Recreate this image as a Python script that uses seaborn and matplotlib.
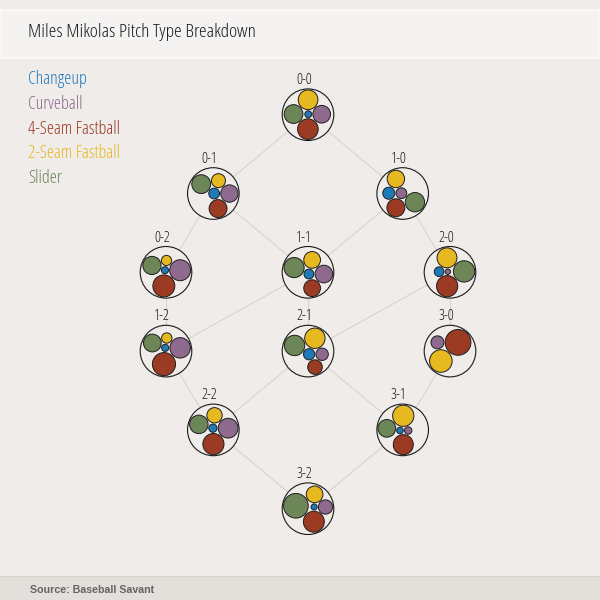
"""
Miles Mikolas – pitch type mix by count, packed circles per count node.
"""

import math
from itertools import combinations
import matplotlib
matplotlib.use("Agg")
import matplotlib.pyplot as plt
from matplotlib.patches import Circle, Rectangle
import pandas as pd
import seaborn as sns

BG        = "#efecea"
TITLE_BG  = "#f4f3f1"
FOOT_BG   = "#e3e0dc"
EDGE_COL  = "#d5d2cf"

# ---- data -------------------------------------------------------------
COUNTS  = ["0-0", "0-1", "1-0", "0-2", "1-1", "2-0",
           "1-2", "2-1", "3-0", "2-2", "3-1", "3-2"]
PITCHES = ["Changeup", "Curveball", "4-Seam Fastball", "2-Seam Fastball", "Slider"]
PITCH_COLORS = ["#1f7ab9", "#8e6b8e", "#9b3b23", "#e6b921", "#6c8657"]

# usage share (%) of each pitch in each count, same order as COUNTS
CHANGEUP  = [3.1,  9.0, 11.5,  3.6,  7.1,  6.5,  3.6,  9.6,  0.0,  4.6,  3.4,  2.4]
CURVEBALL = [20.5, 23.4, 9.2, 31.1, 22.6,  2.1, 29.3, 11.6, 12.6, 26.3,  4.4, 13.0]
FOURSEAM  = [27.9, 24.9, 25.5, 34.3, 20.4, 31.6, 37.5, 16.1, 49.6, 30.2, 31.7, 28.0]
TWOSEAM   = [25.4, 15.2, 24.0,  7.4, 20.4, 27.9,  7.5, 31.4, 37.9, 15.9, 35.7, 17.8]
SLIDER    = [23.1, 27.5, 29.8, 23.6, 29.5, 32.0, 22.2, 31.4,  0.0, 23.1, 24.8, 38.8]

# ---- layout (pixels on a 600x600 canvas) ------------------------------
X0, XSPAN = 24, 568
Y0, DY    = 114.7, 78.8
R_OUT     = 25.8
PAD       = 0.6


# ---- circle packing (front-chain, weighted-centroid variant) ----------
def _place(b, a, c):
    dx, dy = b[0] - a[0], b[1] - a[1]
    d2 = dx * dx + dy * dy
    if d2:
        a2 = (a[2] + c[2]) ** 2
        b2 = (b[2] + c[2]) ** 2
        if a2 > b2:
            x = (d2 + b2 - a2) / (2 * d2)
            y = math.sqrt(max(0, b2 / d2 - x * x))
            c[0] = b[0] - x * dx - y * dy
            c[1] = b[1] - x * dy + y * dx
        else:
            x = (d2 + a2 - b2) / (2 * d2)
            y = math.sqrt(max(0, a2 / d2 - x * x))
            c[0] = a[0] + x * dx - y * dy
            c[1] = a[1] + x * dy + y * dx
    else:
        c[0], c[1] = a[0] + c[2], a[1]


def _intersects(a, b):
    dr = a[2] + b[2] - 1e-6
    dx, dy = b[0] - a[0], b[1] - a[1]
    return dr > 0 and dr * dr > dx * dx + dy * dy


class _Node:
    def __init__(self, c):
        self.c, self.next, self.prev = c, None, None


def _encloses_weak(a, b):
    return math.hypot(b[0] - a[0], b[1] - a[1]) + b[2] <= a[2] + 1e-4


def _basis2(a, b):
    x21, y21, r21 = b[0] - a[0], b[1] - a[1], b[2] - a[2]
    l = math.hypot(x21, y21)
    return ((a[0] + b[0] + x21 / l * r21) / 2,
            (a[1] + b[1] + y21 / l * r21) / 2,
            (l + a[2] + b[2]) / 2)


def _basis3(a, b, c):
    x1, y1, r1 = a
    x2, y2, r2 = b
    x3, y3, r3 = c
    a2, a3, b2, b3 = x1 - x2, x1 - x3, y1 - y2, y1 - y3
    c2, c3 = r2 - r1, r3 - r1
    d1 = x1 * x1 + y1 * y1 - r1 * r1
    d2 = d1 - x2 * x2 - y2 * y2 + r2 * r2
    d3 = d1 - x3 * x3 - y3 * y3 + r3 * r3
    ab = a3 * b2 - a2 * b3
    xa = (b2 * d3 - b3 * d2) / (ab * 2) - x1
    xb = (b3 * c2 - b2 * c3) / ab
    ya = (a3 * d2 - a2 * d3) / (ab * 2) - y1
    yb = (a2 * c3 - a3 * c2) / ab
    A = xb * xb + yb * yb - 1
    B = 2 * (r1 + xa * xb + ya * yb)
    C = xa * xa + ya * ya - r1 * r1
    r = -((B + math.sqrt(B * B - 4 * A * C)) / (2 * A) if abs(A) > 1e-6 else C / B)
    return (x1 + xa + xb * r, y1 + ya + yb * r, r)


def _enclose(circles):
    cands = [tuple(c) for c in circles]
    for a, b in combinations(circles, 2):
        cands.append(_basis2(a, b))
    for a, b, c in combinations(circles, 3):
        try:
            cands.append(_basis3(a, b, c))
        except (ZeroDivisionError, ValueError):
            pass
    best = None
    for e in cands:
        if all(math.isfinite(v) for v in e) and all(_encloses_weak(e, c) for c in circles):
            if best is None or e[2] < best[2]:
                best = e
    return best


def pack_siblings(circles):
    n = len(circles)
    a = circles[0]
    a[0] = a[1] = 0
    if n == 1:
        return a[2]
    b = circles[1]
    a[0], b[0], b[1] = -b[2], a[2], 0
    if n == 2:
        return a[2] + b[2]
    c = circles[2]
    _place(b, a, c)

    wa, wb, wc = a[2] ** 2, b[2] ** 2, c[2] ** 2
    oa = wa + wb + wc
    ox = wa * a[0] + wb * b[0] + wc * c[0]
    oy = wa * a[1] + wb * b[1] + wc * c[1]

    a, b, c = _Node(a), _Node(b), _Node(c)
    a.next = c.prev = b
    b.next = a.prev = c
    c.next = b.prev = a

    i = 3
    while i < n:
        c = _Node(circles[i])
        _place(a.c, b.c, c.c)
        j, k, sj, sk = b.next, a.prev, b.c[2], a.c[2]
        hit = False
        while True:
            if sj <= sk:
                if _intersects(j.c, c.c):
                    b = j; a.next = b; b.prev = a; hit = True
                    break
                sj += j.c[2]; j = j.next
            else:
                if _intersects(k.c, c.c):
                    a = k; a.next = b; b.prev = a; hit = True
                    break
                sk += k.c[2]; k = k.prev
            if j is k.next:
                break
        if hit:
            continue
        c.prev, c.next = a, b
        a.next = b.prev = c
        b = c

        w = c.c[2] ** 2
        oa += w
        ox += w * c.c[0]
        oy += w * c.c[1]
        gx, gy = ox / oa, oy / oa
        aa = (a.c[0] - gx) ** 2 + (a.c[1] - gy) ** 2
        c = c.next
        while c is not b:
            ca = (c.c[0] - gx) ** 2 + (c.c[1] - gy) ** 2
            if ca < aa:
                a, aa = c, ca
            c = c.next
        b = a.next
        i += 1

    ex, ey, er = _enclose(circles)
    for circ in circles:
        circ[0] -= ex
        circ[1] -= ey
    return er


def pack_count(values, target):
    """Scale sqrt(values) so the padded pack just fits inside `target`."""
    keep = [(k, math.sqrt(v)) for k, v in enumerate(values) if v > 0]
    s = target / math.sqrt(sum(values)) * 0.8
    for _ in range(40):
        circles = [[0.0, 0.0, s * q + PAD] for _, q in keep]
        e = pack_siblings(circles)
        s *= (target - PAD) / (e - PAD)
    circles = [[0.0, 0.0, s * q + PAD] for _, q in keep]
    pack_siblings(circles)
    return [(k, cx, cy, r - PAD) for (k, _), (cx, cy, r) in zip(keep, circles)]


# ---- node positions ---------------------------------------------------
balls   = [int(c.split("-")[0]) for c in COUNTS]
strikes = [int(c.split("-")[1]) for c in COUNTS]
rows    = [b + s for b, s in zip(balls, strikes)]
pos = {}
for r in sorted(set(rows)):
    members = sorted([c for c, rr in zip(COUNTS, rows) if rr == r], key=lambda c: int(c[0]))
    n = len(members)
    for idx, c in enumerate(members):
        pos[c] = (X0 + XSPAN * (idx + 1) / (n + 1), Y0 + DY * r)

edges = []
for c, b, s in zip(COUNTS, balls, strikes):
    for nb, ns in ((b + 1, s), (b, s + 1)):
        nxt = f"{nb}-{ns}"
        if nxt in pos:
            eid = f"{c}>{nxt}"
            edges.append({"edge": eid, "x": pos[c][0], "y": pos[c][1]})
            edges.append({"edge": eid, "x": pos[nxt][0], "y": pos[nxt][1]})
edges = pd.DataFrame(edges)

# ---- drawing ----------------------------------------------------------
sns.set_theme(style="white", rc={"figure.facecolor": BG, "axes.facecolor": BG})
plt.rcParams["font.family"] = ["Open Sans", "DejaVu Sans"]
plt.rcParams["font.stretch"] = "condensed"
palette = sns.color_palette(PITCH_COLORS)

fig = plt.figure(figsize=(6, 6), dpi=100)
ax = fig.add_axes([0, 0, 1, 1])

sns.lineplot(data=edges, x="x", y="y", units="edge", estimator=None, sort=False,
             color=EDGE_COL, linewidth=0.75, ax=ax, zorder=1)

usage = list(zip(CHANGEUP, CURVEBALL, FOURSEAM, TWOSEAM, SLIDER))
for count, vals in zip(COUNTS, usage):
    nx, ny = pos[count]
    ax.add_patch(Circle((nx, ny), R_OUT, fc=BG, ec="#1a1a1a", lw=0.8, zorder=2))
    for k, cx, cy, r in pack_count(vals, R_OUT - 0.45):
        ax.add_patch(Circle((nx + cx, ny + cy), r, fc=palette[k], ec="#1e1e1e",
                            lw=0.7, zorder=3))
    ax.text(nx - 4, ny - 30.7, count, ha="center", va="baseline",
            fontsize=10.8, color="#1a1a1a", fontstretch="condensed", fontweight="normal")

# title band, legend, footer
ax.add_patch(Rectangle((0.5, 10), 598.5, 48, fc=TITLE_BG, ec="#fbfaf8", lw=1.2, zorder=0))
ax.text(28, 36.7, "Miles Mikolas Pitch Type Breakdown", ha="left", va="baseline",
        fontsize=14, color="#1c1c1c", fontstretch="condensed", fontweight="light")
for i, (name, col) in enumerate(zip(PITCHES, palette)):
    ax.text(28, 84 + 24.8 * i, name, ha="left", va="baseline", fontsize=13, color=col,
            fontstretch="condensed", fontweight="normal")
ax.add_patch(Rectangle((0, 576), 600, 24, fc=FOOT_BG, ec="none", zorder=0))
ax.plot([0, 600], [576, 576], color="#d6d3cf", lw=0.8, zorder=0)
ax.text(30, 592.7, "Source: Baseball Savant", ha="left", va="baseline",
        fontsize=7.7, fontweight="bold", color="#666361", fontstretch="normal",
        family=["Liberation Sans", "DejaVu Sans"])

ax.set_xlim(0, 600)
ax.set_ylim(600, 0)
ax.set_aspect("equal")
ax.axis("off")

fig.savefig("out.png", dpi=100, facecolor=BG)
